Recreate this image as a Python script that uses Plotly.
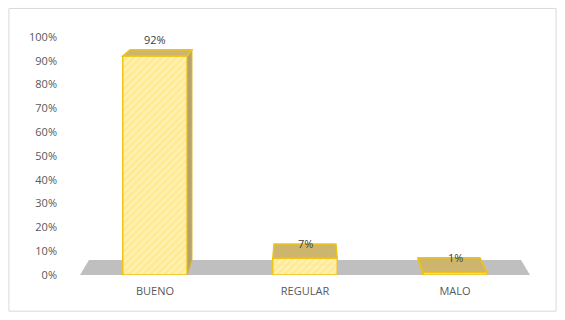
import plotly.graph_objects as go

categories = ["BUENO", "REGULAR", "MALO"]
values = [0.92, 0.07, 0.01]
tick_vals = [i / 10 for i in range(11)]
tick_text = [f"{i*10}%" for i in range(11)]

K = 0.04          # depth factor
VPX, VPY = 1.0, 1.58   # vanishing point (category index, value)
HW = 0.215        # half width of bar front

def back(x, y):
    return x + (VPX - x) * K, y + (VPY - y) * K

def path(pts):
    return "M " + " L ".join(f"{x},{y}" for x, y in pts) + " Z"

fig = go.Figure()
fig.add_trace(go.Bar(
    x=categories, y=values, width=2 * HW,
    marker=dict(color="#FFEFA6",
                line=dict(color="#F0C419", width=1.5),
                pattern=dict(shape="/", fgcolor="#FFF9DD", bgcolor="#FFEA94", size=5, solidity=0.35)),
    hoverinfo="skip",
))

shapes = []
# floor
fl, fr = -0.5, 2.5
bl = back(fl, 0); br = back(fr, 0)
shapes.append(dict(type="path", xref="x", yref="y", layer="below",
                   path=path([(fl, 0), (fr, 0), br, bl]),
                   fillcolor="#BFBFBF", line=dict(width=0)))
annotations = []
for i, v in enumerate(values):
    xl, xr = i - HW, i + HW
    # side face
    if i < VPX:
        s = [(xr, v), back(xr, v), back(xr, 0), (xr, 0)]
    elif i > VPX:
        s = [(xl, v), back(xl, v), back(xl, 0), (xl, 0)]
    else:
        s = None
    if s:
        shapes.append(dict(type="path", xref="x", yref="y", layer="above",
                           path=path(s), fillcolor="#B5A36A",
                           line=dict(color="#E0B820", width=1)))
    top = [(xl, v), (xr, v), back(xr, v), back(xl, v)]
    shapes.append(dict(type="path", xref="x", yref="y", layer="above",
                       path=path(top), fillcolor="#CDB56E",
                       line=dict(color="#F0C419", width=1.5)))
    bx, by = back(i, v)
    annotations.append(dict(x=i, y=by, xref="x", yref="y", text=f"{round(v*100)}%",
                            showarrow=False, yanchor="middle",
                            yshift=10 if v > 0.5 else 0,
                            font=dict(family="Open Sans, Liberation Sans, sans-serif", size=11, color="#404040")))

# outer frame
shapes.append(dict(type="rect", xref="paper", yref="paper", x0=-0.158, x1=1.058, y0=-0.152, y1=1.12,
                   line=dict(color="#D9D9D9", width=1), fillcolor="rgba(0,0,0,0)", layer="below"))

fig.update_layout(
    width=565, height=320,
    margin=dict(l=80, r=35, t=37, b=45),
    paper_bgcolor="white", plot_bgcolor="white",
    showlegend=False,
    shapes=shapes, annotations=annotations,
    font=dict(family="Open Sans, Liberation Sans, sans-serif", size=11, color="#595959"),
    xaxis=dict(range=[-0.5, 2.5], showgrid=False, showline=False, zeroline=False,
               ticks="", ticklabelstandoff=8, tickfont=dict(size=11, color="#595959")),
    yaxis=dict(range=[0, 1], tickvals=tick_vals, ticktext=tick_text, showgrid=False,
               showline=False, zeroline=False, ticks="", ticklabelstandoff=22,
               tickfont=dict(size=11, color="#595959")),
)

fig.write_html("out.html")
